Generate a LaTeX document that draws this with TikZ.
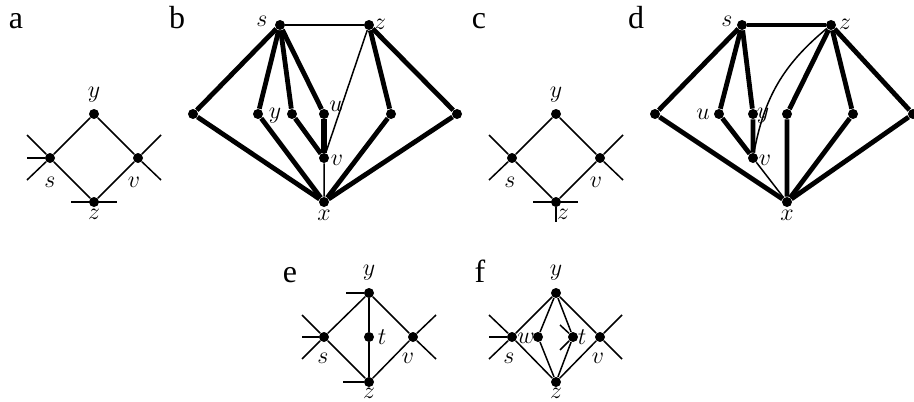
\documentclass[tikz,border=0pt]{standalone}
\usepackage{fontspec}
\setmainfont{Liberation Serif}
\tikzset{
  vdot/.style={circle, fill=black, inner sep=0pt, minimum size=5pt},
  vlbl/.style={inner sep=0pt, font=\large},
  thinedge/.style={line width=0.75pt},
  stubedge/.style={line width=1.3pt},
  thickedge/.style={line width=2.4pt},
  heavyedge/.style={line width=3.1pt},
  panel/.style={font=\fontsize{16}{19}\selectfont, anchor=base, inner sep=0pt}
}

\begin{document}
\begin{tikzpicture}[x=0.5pt,y=-0.5pt]
  \useasboundingbox (0,0) rectangle (914,401);

  % panel letters
  \node[panel] (pa) at (16,29)  {a};
  \node[panel] (pb) at (177,29) {b};
  \node[panel] (pc) at (479,29) {c};
  \node[panel] (pd) at (636,29) {d};
  \node[panel] (pe) at (290,282) {e};
  \node[panel] (pf) at (480,282) {f};

  % a
  \node[vdot] (ay) at (94,114)  {};
  \node[vdot] (as) at (50,158)  {};
  \node[vdot] (av) at (138,158) {};
  \node[vdot] (az) at (94,202)  {};
  \coordinate (as1) at (27,135);  \coordinate (as2) at (27,180);
  \coordinate (as3) at (27,158);
  \coordinate (av1) at (161,135); \coordinate (av2) at (161,180);
  \coordinate (az1) at (71,202);  \coordinate (az2) at (117,202);
  \draw[thinedge] (as) -- (ay) -- (av) -- (az) -- (as);
  \draw[thinedge] (as1) -- (as) -- (as2);
  \draw[thinedge] (av1) -- (av) -- (av2);
  \draw[stubedge] (as3) -- (as);
  \draw[stubedge] (az1) -- (az2);
  \node[vlbl] (ay-l) at (94,95)  {$y$};
  \node[vlbl] (as-l) at (50,182) {$s$};
  \node[vlbl] (av-l) at (134,182) {$v$};
  \node[vlbl] (az-l) at (94,214) {$z$};

  % b
  \node[vdot] (bs)  at (280,25)  {};
  \node[vdot] (bz)  at (369,25)  {};
  \node[vdot] (bl)  at (193,114) {};
  \node[vdot] (by)  at (258,114) {};
  \node[vdot] (bw)  at (292,114) {};
  \node[vdot] (bu)  at (324,114) {};
  \node[vdot] (bq)  at (391,114) {};
  \node[vdot] (br)  at (457,114) {};
  \node[vdot] (bv)  at (324,158) {};
  \node[vdot] (bx)  at (324,202) {};
  \draw[thinedge] (bs) -- (bz);
  \draw[thinedge] (bz) -- (bv) -- (bx);
  \draw[thickedge] (bs) -- (bl) -- (bx);
  \draw[thickedge] (bs) -- (by) -- (bx);
  \draw[thickedge] (bs) -- (bw) -- (bv);
  \draw[thickedge] (bs) -- (bu);
  \draw[heavyedge] (bu) -- (bv);
  \draw[thickedge] (bz) -- (bq) -- (bx);
  \draw[thickedge] (bz) -- (br) -- (bx);
  \node[vlbl] (bs-l) at (262,21)  {$s$};
  \node[vlbl] (bz-l) at (380,24)  {$z$};
  \node[vlbl] (by-l) at (275,116) {$y$};
  \node[vlbl] (bu-l) at (336,106) {$u$};
  \node[vlbl] (bv-l) at (337,160) {$v$};
  \node[vlbl] (bx-l) at (324,215) {$x$};

  % c
  \node[vdot] (cy) at (556,114) {};
  \node[vdot] (cs) at (512,158) {};
  \node[vdot] (cv) at (600,158) {};
  \node[vdot] (cz) at (556,202) {};
  \coordinate (cs1) at (489,135); \coordinate (cs2) at (489,180);
  \coordinate (cv1) at (623,135); \coordinate (cv2) at (623,180);
  \coordinate (cz1) at (533,202); \coordinate (cz2) at (578,202);
  \coordinate (cz3) at (556,222);
  \draw[thinedge] (cs) -- (cy) -- (cv) -- (cz) -- (cs);
  \draw[thinedge] (cs1) -- (cs) -- (cs2);
  \draw[thinedge] (cv1) -- (cv) -- (cv2);
  \draw[stubedge] (cz1) -- (cz2);
  \draw[thinedge] (cz) -- (cz3);
  \node[vlbl] (cy-l) at (556,95)  {$y$};
  \node[vlbl] (cs-l) at (510,182) {$s$};
  \node[vlbl] (cv-l) at (596,182) {$v$};
  \node[vlbl] (cz-l) at (563,214) {$z$};

  % d
  \node[vdot] (ds) at (742,25)  {};
  \node[vdot] (dz) at (831,25)  {};
  \node[vdot] (dl) at (655,114) {};
  \node[vdot] (du) at (719,114) {};
  \node[vdot] (dy) at (753,114) {};
  \node[vdot] (dw) at (787,114) {};
  \node[vdot] (dq) at (853,114) {};
  \node[vdot] (dr) at (913,114) {};
  \node[vdot] (dv) at (753,158) {};
  \node[vdot] (dx) at (787,202) {};
  \draw[thickedge] (ds) -- (dz);
  \draw[thickedge] (ds) -- (dl) -- (dx);
  \draw[thickedge] (ds) -- (du) -- (dv);
  \draw[thickedge] (ds) -- (dy) -- (dv);
  \draw[thickedge] (dz) -- (dw) -- (dx);
  \draw[thickedge] (dz) -- (dq) -- (dx);
  \draw[thickedge] (dz) -- (dr) -- (dx);
  \draw[thinedge] (dv) -- (dx);
  \draw[thinedge] (dz) to[bend right=20] (dv);
  \node[vlbl] (ds-l) at (727,21)  {$s$};
  \node[vlbl] (dz-l) at (845,24)  {$z$};
  \node[vlbl] (du-l) at (703,114) {$u$};
  \node[vlbl] (dy-l) at (763,116) {$y$};
  \node[vlbl] (dv-l) at (765,160) {$v$};
  \node[vlbl] (dx-l) at (787,215) {$x$};

  % e
  \node[vdot] (ey) at (369,293) {};
  \node[vdot] (es) at (324,337) {};
  \node[vdot] (et) at (369,337) {};
  \node[vdot] (ev) at (413,337) {};
  \node[vdot] (ez) at (369,382) {};
  \coordinate (es1) at (302,315); \coordinate (es2) at (302,359);
  \coordinate (es3) at (302,337);
  \coordinate (ev1) at (436,315); \coordinate (ev2) at (436,359);
  \coordinate (ey1) at (346,293); \coordinate (ez1) at (343,382);
  \draw[thinedge] (es) -- (ey) -- (ev) -- (ez) -- (es);
  \draw[thinedge] (es1) -- (es) -- (es2);
  \draw[thinedge] (ev1) -- (ev) -- (ev2);
  \draw[stubedge] (es3) -- (es);
  \draw[stubedge] (ey1) -- (ey);
  \draw[stubedge] (ez1) -- (ez);
  \draw[stubedge] (ey) -- (et) -- (ez);
  \node[vlbl] (ey-l) at (369,273) {$y$};
  \node[vlbl] (et-l) at (382,337) {$t$};
  \node[vlbl] (es-l) at (323,358) {$s$};
  \node[vlbl] (ev-l) at (408,358) {$v$};
  \node[vlbl] (ez-l) at (369,393) {$z$};

  % f
  \node[vdot] (fy) at (556,293) {};
  \node[vdot] (fs) at (512,337) {};
  \node[vdot] (fw) at (538,337) {};
  \node[vdot] (ft) at (573,337) {};
  \node[vdot] (fv) at (600,337) {};
  \node[vdot] (fz) at (556,382) {};
  \coordinate (fs1) at (489,315); \coordinate (fs2) at (489,359);
  \coordinate (fs3) at (489,337);
  \coordinate (fv1) at (622,315); \coordinate (fv2) at (622,359);
  \coordinate (ft1) at (560,325); \coordinate (ft2) at (560,350);
  \draw[thinedge] (fs) -- (fy) -- (fv) -- (fz) -- (fs);
  \draw[thinedge] (fy) -- (fw) -- (fz);
  \draw[thinedge] (fy) -- (ft) -- (fz);
  \draw[thinedge] (fs1) -- (fs) -- (fs2);
  \draw[thinedge] (fv1) -- (fv) -- (fv2);
  \draw[thinedge] (ft1) -- (ft) -- (ft2);
  \draw[stubedge] (fs3) -- (fs);
  \node[vlbl] (fy-l) at (556,273) {$y$};
  \node[vlbl] (fw-l) at (526,338) {$w$};
  \node[vlbl] (ft-l) at (582,337) {$t$};
  \node[vlbl] (fs-l) at (509,358) {$s$};
  \node[vlbl] (fv-l) at (598,358) {$v$};
  \node[vlbl] (fz-l) at (556,393) {$z$};
\end{tikzpicture}
\end{document}
